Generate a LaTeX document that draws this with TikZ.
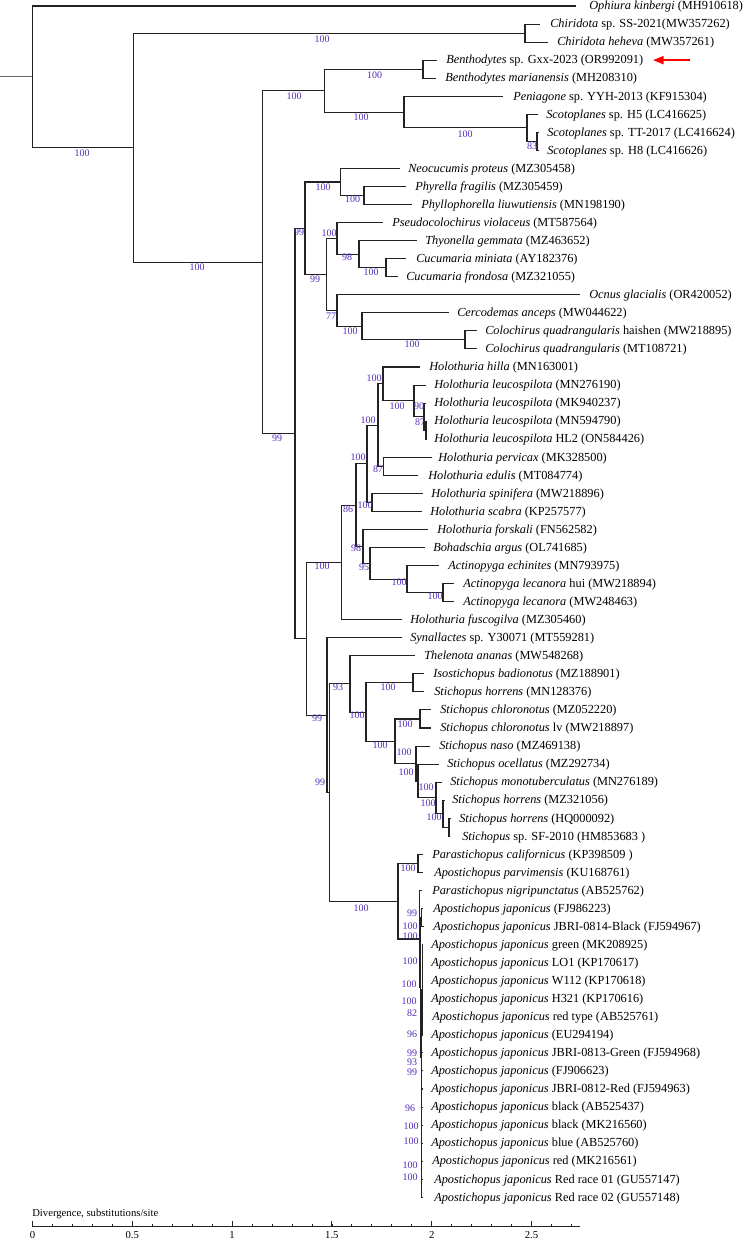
\documentclass[tikz,border=0pt]{standalone}
\usepackage{fontspec}
\setmainfont{Liberation Serif}
\usetikzlibrary{arrows.meta,calc}
\definecolor{bscol}{RGB}{85,45,185}
\definecolor{treecol}{RGB}{35,35,35}
\newcommand\phyleaf[5]{%
  \coordinate (l#1) at ({#2},{6+(#1-1)*18.05});
  \node[leaftext] (t#1) at ({#3},{6+(#1-1)*18.05+0.8}) {\textit{#4} #5};}
\newcommand\phybs[4]{\node[bs] (#1) at (#2,#3) {#4};}
\newcommand\phybr[2]{\draw[tree] (#1) |- (#2);}
\begin{document}
\begin{tikzpicture}[x=0.75pt,y=-0.75pt,
  tree/.style={draw=treecol,line width=0.8pt},
  leaftext/.style={anchor=west,inner sep=0pt,font=\fontsize{9.25}{11}\selectfont},
  bs/.style={inner sep=0pt,text=bscol,font=\fontsize{7.5}{9}\selectfont},
  axtext/.style={inner sep=0pt,font=\fontsize{8}{10}\selectfont}]
\fill[white] (0,0) rectangle (748,1240);
\useasboundingbox (0,0) rectangle (748,1240);
% ---------------- leaves ----------------
\phyleaf{1}{576}{589}{Ophiura kinbergi}{(MH910618)}
\phyleaf{2}{540}{550}{Chiridota}{sp. SS-2021(MW357262)}
\phyleaf{3}{548}{557}{Chiridota heheva}{(MW357261)}
\phyleaf{4}{436.5}{446}{Benthodytes}{sp. Gxx-2023 (OR992091)}
\phyleaf{5}{436}{445}{Benthodytes marianensis}{(MH208310)}
\phyleaf{6}{503}{513}{Peniagone}{sp. YYH-2013 (KF915304)}
\phyleaf{7}{538}{546}{Scotoplanes}{sp. H5 (LC416625)}
\phyleaf{8}{539}{547}{Scotoplanes}{sp. TT-2017 (LC416624)}
\phyleaf{9}{539}{547}{Scotoplanes}{sp. H8 (LC416626)}
\phyleaf{10}{400}{408}{Neocucumis proteus}{(MZ305458)}
\phyleaf{11}{406}{415}{Phyrella fragilis}{(MZ305459)}
\phyleaf{12}{412}{421}{Phyllophorella liuwutiensis}{(MN198190)}
\phyleaf{13}{383}{392}{Pseudocolochirus violaceus}{(MT587564)}
\phyleaf{14}{417}{425}{Thyonella gemmata}{(MZ463652)}
\phyleaf{15}{406}{416}{Cucumaria miniata}{(AY182376)}
\phyleaf{16}{398}{406}{Cucumaria frondosa}{(MZ321055)}
\phyleaf{17}{580}{589}{Ocnus glacialis}{(OR420052)}
\phyleaf{18}{449}{457}{Cercodemas anceps}{(MW044622)}
\phyleaf{19}{477}{485}{Colochirus quadrangularis}{haishen (MW218895)}
\phyleaf{20}{477}{485}{Colochirus quadrangularis}{(MT108721)}
\phyleaf{21}{420}{429}{Holothuria hilla}{(MN163001)}
\phyleaf{22}{426}{434}{Holothuria leucospilota}{(MN276190)}
\phyleaf{23}{426}{434}{Holothuria leucospilota}{(MK940237)}
\phyleaf{24}{426.5}{434}{Holothuria leucospilota}{(MN594790)}
\phyleaf{25}{426.5}{434}{Holothuria leucospilota}{HL2 (ON584426)}
\phyleaf{26}{432}{438}{Holothuria pervicax}{(MK328500)}
\phyleaf{27}{418}{428}{Holothuria edulis}{(MT084774)}
\phyleaf{28}{423}{431}{Holothuria spinifera}{(MW218896)}
\phyleaf{29}{422}{430}{Holothuria scabra}{(KP257577)}
\phyleaf{30}{428}{437}{Holothuria forskali}{(FN562582)}
\phyleaf{31}{425}{433}{Bohadschia argus}{(OL741685)}
\phyleaf{32}{439}{448}{Actinopyga echinites}{(MN793975)}
\phyleaf{33}{454}{463}{Actinopyga lecanora}{hui (MW218894)}
\phyleaf{34}{454}{463}{Actinopyga lecanora}{(MW248463)}
\phyleaf{35}{402}{410}{Holothuria fuscogilva}{(MZ305460)}
\phyleaf{36}{402}{410}{Synallactes}{sp. Y30071 (MT559281)}
\phyleaf{37}{415}{424}{Thelenota ananas}{(MW548268)}
\phyleaf{38}{424}{433}{Isostichopus badionotus}{(MZ188901)}
\phyleaf{39}{424}{434}{Stichopus horrens}{(MN128376)}
\phyleaf{40}{431}{440}{Stichopus chloronotus}{(MZ052220)}
\phyleaf{41}{431}{440}{Stichopus chloronotus}{lv (MW218897)}
\phyleaf{42}{430}{439}{Stichopus naso}{(MZ469138)}
\phyleaf{43}{439}{447}{Stichopus ocellatus}{(MZ292734)}
\phyleaf{44}{442}{450}{Stichopus monotuberculatus}{(MN276189)}
\phyleaf{45}{445}{452}{Stichopus horrens}{(MZ321056)}
\phyleaf{46}{451}{459}{Stichopus horrens}{(HQ000092)}
\phyleaf{47}{450}{462}{Stichopus}{sp. SF-2010 (HM853683 )}
\phyleaf{48}{423}{432}{Parastichopus californicus}{(KP398509 )}
\phyleaf{49}{423}{434}{Apostichopus parvimensis}{(KU168761)}
\phyleaf{50}{421.5}{432}{Parastichopus nigripunctatus}{(AB525762)}
\phyleaf{51}{423}{433}{Apostichopus japonicus}{(FJ986223)}
\phyleaf{52}{424}{433}{Apostichopus japonicus}{JBRI-0814-Black (FJ594967)}
\phyleaf{53}{423}{431}{Apostichopus japonicus}{green (MK208925)}
\phyleaf{54}{423}{431}{Apostichopus japonicus}{LO1 (KP170617)}
\phyleaf{55}{423}{431}{Apostichopus japonicus}{W112 (KP170618)}
\phyleaf{56}{423}{431}{Apostichopus japonicus}{H321 (KP170616)}
\phyleaf{57}{423}{432}{Apostichopus japonicus}{red type (AB525761)}
\phyleaf{58}{423}{431}{Apostichopus japonicus}{(EU294194)}
\phyleaf{59}{423}{431}{Apostichopus japonicus}{JBRI-0813-Green (FJ594968)}
\phyleaf{60}{423}{431}{Apostichopus japonicus}{(FJ906623)}
\phyleaf{61}{423}{431}{Apostichopus japonicus}{JBRI-0812-Red (FJ594963)}
\phyleaf{62}{423}{431}{Apostichopus japonicus}{black (AB525437)}
\phyleaf{63}{423}{431}{Apostichopus japonicus}{black (MK216560)}
\phyleaf{64}{423}{431}{Apostichopus japonicus}{blue (AB525760)}
\phyleaf{65}{423}{432}{Apostichopus japonicus}{red (MK216561)}
\phyleaf{66}{423}{434}{Apostichopus japonicus}{Red race 01 (GU557147)}
\phyleaf{67}{423}{434}{Apostichopus japonicus}{Red race 02 (GU557148)}
% ---------------- internal nodes ----------------
\coordinate (rs) at (0,76.79);
\coordinate (R) at (32.4,76.79);
\coordinate (A) at (133.5,147.57);
\coordinate (Chir) at (525,33.08);
\coordinate (B) at (262.5,262.06);
\coordinate (X) at (324.4,90.61);
\coordinate (Bn) at (423,69.18);
\coordinate (Z) at (404,112.04);
\coordinate (Sc) at (527,127.84);
\coordinate (Sc2) at (537,141.38);
\coordinate (C) at (295,433.51);
\coordinate (D1) at (305,228.25);
\coordinate (P) at (340.5,181.99);
\coordinate (Ph) at (364,195.53);
\coordinate (D3) at (326.5,274.50);
\coordinate (Cu) at (337,238.40);
\coordinate (Th) at (359,254.19);
\coordinate (Cm) at (386,267.73);
\coordinate (O) at (337,310.60);
\coordinate (Ce) at (362,326.39);
\coordinate (Co) at (465,339.93);
\coordinate (E) at (306.5,638.77);
\coordinate (H) at (341.5,562.38);
\coordinate (H2) at (356,505.06);
\coordinate (H3) at (367,463.74);
\coordinate (H5) at (378,425.10);
\coordinate (Hi) at (383,383.92);
\coordinate (L1) at (414,400.84);
\coordinate (L2) at (424,416.64);
\coordinate (L3) at (426,430.18);
\coordinate (Pe) at (383.5,466.28);
\coordinate (H6) at (372,502.38);
\coordinate (H4) at (363,546.38);
\coordinate (Bo) at (370,563.30);
\coordinate (Ac1) at (407,579.09);
\coordinate (Ac2) at (443,592.63);
\coordinate (S1) at (327,715.15);
\coordinate (S2) at (329.5,792.56);
\coordinate (St) at (350,683.94);
\coordinate (St2) at (366,712.07);
\coordinate (Is) at (413,682.88);
\coordinate (St3) at (395,741.26);
\coordinate (Chl) at (420,718.98);
\coordinate (St4) at (416,763.54);
\coordinate (St5) at (418,781.03);
\coordinate (St6) at (436,797.95);
\coordinate (St7) at (443,813.74);
\coordinate (St8) at (449,827.28);
\coordinate (Ap) at (398,901.17);
\coordinate (Pc) at (418,863.38);
\coordinate (Aj) at (419.5,938.96);
\coordinate (Aj2) at (420.5,987.47);
\coordinate (JA) at (421.3,917.53);
\coordinate (JB) at (421.3,1057.41);
\coordinate (JC) at (422.3,989.73);
\coordinate (JD) at (421.8,1125.1);
% ---------------- branches ----------------
\draw[tree,draw=black!60] (rs) -- (R);
\phybr{R}{l1}\phybr{R}{A}
\phybr{A}{Chir}\phybr{A}{B}
\phybr{Chir}{l2}\phybr{Chir}{l3}
\phybr{B}{X}\phybr{B}{C}
\phybr{X}{Bn}\phybr{X}{Z}
\phybr{Bn}{l4}\phybr{Bn}{l5}
\phybr{Z}{l6}\phybr{Z}{Sc}
\phybr{Sc}{l7}\phybr{Sc}{Sc2}
\phybr{Sc2}{l8}\phybr{Sc2}{l9}
\phybr{C}{D1}\phybr{C}{E}
\phybr{D1}{P}\phybr{D1}{D3}
\phybr{P}{l10}\phybr{P}{Ph}
\phybr{Ph}{l11}\phybr{Ph}{l12}
\phybr{D3}{Cu}\phybr{D3}{O}
\phybr{Cu}{l13}\phybr{Cu}{Th}
\phybr{Th}{l14}\phybr{Th}{Cm}
\phybr{Cm}{l15}\phybr{Cm}{l16}
\phybr{O}{l17}\phybr{O}{Ce}
\phybr{Ce}{l18}\phybr{Ce}{Co}
\phybr{Co}{l19}\phybr{Co}{l20}
\phybr{E}{H}\phybr{E}{S1}
\phybr{H}{H2}\phybr{H}{l35}
\phybr{H2}{H3}\phybr{H2}{H4}
\phybr{H3}{H5}\phybr{H3}{H6}
\phybr{H5}{Hi}\phybr{H5}{Pe}
\phybr{Hi}{l21}\phybr{Hi}{L1}
\phybr{L1}{l22}\phybr{L1}{L2}
\phybr{L2}{l23}\phybr{L2}{L3}
\phybr{L3}{l24}\phybr{L3}{l25}
\phybr{Pe}{l26}\phybr{Pe}{l27}
\phybr{H6}{l28}\phybr{H6}{l29}
\phybr{H4}{l30}\phybr{H4}{Bo}
\phybr{Bo}{l31}\phybr{Bo}{Ac1}
\phybr{Ac1}{l32}\phybr{Ac1}{Ac2}
\phybr{Ac2}{l33}\phybr{Ac2}{l34}
\phybr{S1}{l36}\phybr{S1}{S2}
\phybr{S2}{St}\phybr{S2}{Ap}
\phybr{St}{l37}\phybr{St}{St2}
\phybr{St2}{Is}\phybr{St2}{St3}
\phybr{Is}{l38}\phybr{Is}{l39}
\phybr{St3}{Chl}\phybr{St3}{St4}
\phybr{Chl}{l40}\phybr{Chl}{l41}
\phybr{St4}{l42}\phybr{St4}{St5}
\phybr{St5}{l43}\phybr{St5}{St6}
\phybr{St6}{l44}\phybr{St6}{St7}
\phybr{St7}{l45}\phybr{St7}{St8}
\phybr{St8}{l46}\phybr{St8}{l47}
\phybr{Ap}{Pc}\phybr{Ap}{Aj}
\phybr{Pc}{l48}\phybr{Pc}{l49}
\phybr{Aj}{l50}\phybr{Aj}{Aj2}
\phybr{Aj2}{JA}\phybr{Aj2}{JB}
\phybr{JA}{l51}\phybr{JA}{l52}
\phybr{JB}{JC}\phybr{JB}{JD}
\foreach \k in {53,...,58}{\draw[tree,line width=1.1pt] (JC) |- (l\k);}
\foreach \k in {59,...,67}{\draw[tree] (JD) |- (l\k);}
% ---------------- bootstrap values ----------------
\phybs{bA}{82}{153}{100}
\phybs{bChir}{322}{39.5}{100}
\phybs{bBn}{374.5}{75}{100}
\phybs{bX}{294}{96}{100}
\phybs{bZ}{361}{117.5}{100}
\phybs{bSc}{465}{134}{100}
\phybs{bSc2}{532}{146.5}{83}
\phybs{bB}{197}{267.5}{100}
\phybs{bC}{277}{438}{99}
\phybs{bD1}{299}{232}{99}
\phybs{bP}{323}{187.5}{100}
\phybs{bPh}{352.5}{199.5}{100}
\phybs{bD3}{315}{279.5}{99}
\phybs{bCu}{329}{233.5}{100}
\phybs{bTh}{347}{257.5}{98}
\phybs{bCm}{371}{272}{100}
\phybs{bO}{331}{316}{77}
\phybs{bCe}{350}{331}{100}
\phybs{bCo}{412}{344.5}{100}
\phybs{bHi}{374}{378.5}{100}
\phybs{bL1}{397}{406}{100}
\phybs{bL2}{419}{406}{90}
\phybs{bL3}{420}{422}{87}
\phybs{bH5}{368}{420.5}{100}
\phybs{bPe}{378}{469}{87}
\phybs{bH6}{365}{505}{100}
\phybs{bH3}{358}{457}{100}
\phybs{bH4}{356}{548}{98}
\phybs{bBo}{364}{567}{95}
\phybs{bAc1}{399}{582}{100}
\phybs{bAc2}{435}{596}{100}
\phybs{bH2}{348}{509.5}{86}
\phybs{bH}{322}{566}{100}
\phybs{bS1}{317}{718}{99}
\phybs{bS2}{320}{782}{99}
\phybs{bSt}{338}{687}{93}
\phybs{bSt2}{357}{715}{100}
\phybs{bIs}{388}{687}{100}
\phybs{bSt3}{380}{745}{100}
\phybs{bChl}{405}{724}{100}
\phybs{bSt4}{404}{752}{100}
\phybs{bSt5}{406}{772}{100}
\phybs{bSt6}{426}{787.5}{100}
\phybs{bSt7}{428}{803.5}{100}
\phybs{bSt8}{434}{817}{100}
\phybs{bAp}{361}{908}{100}
\phybs{bPc}{408}{868}{100}
\phybs{j1}{412}{913}{99}
\phybs{j2}{410}{926}{100}
\phybs{j3}{410}{936}{100}
\phybs{j4}{410}{961}{100}
\phybs{j5}{409}{984}{100}
\phybs{j6}{409}{1001}{100}
\phybs{j7}{412}{1013}{82}
\phybs{j8}{412}{1034}{96}
\phybs{j9}{412}{1053}{99}
\phybs{j10}{412}{1062.5}{93}
\phybs{j11}{412}{1072}{99}
\phybs{j12}{410}{1108}{96}
\phybs{j13}{411}{1126}{100}
\phybs{j14}{411}{1141}{100}
\phybs{j15}{410}{1165}{100}
\phybs{j16}{410}{1177}{100}
% ---------------- red arrow ----------------
\coordinate (arT) at (690,60.15);
\coordinate (arH) at (653,60.15);
\draw[red,line width=1.6pt,-{Triangle[length=8pt,width=6pt]}] (arT) -- (arH);
% ---------------- scale axis ----------------
\node[axtext,anchor=west] (axtitle) at (32,1214) {Divergence, substitutions/site};
\coordinate (ax0) at (32.5,1226.5);
\coordinate (ax1) at (580,1226.5);
\draw[treecol,line width=0.7pt] (ax0) -- (ax1);
\foreach \k in {0,...,27}{\draw[treecol,line width=0.6pt] ($(ax0)+(\k*19.96,0)$) -- ++(0,-3);}
\foreach \k in {0,...,5}{\draw[treecol,line width=0.7pt] ($(ax0)+(\k*99.8,0)$) -- ++(0,-5.5);}
\node[axtext] (tk0) at (32.5,1235) {0};
\node[axtext] (tk1) at (132.3,1235) {0.5};
\node[axtext] (tk2) at (232.1,1235) {1};
\node[axtext] (tk3) at (331.9,1235) {1.5};
\node[axtext] (tk4) at (431.7,1235) {2};
\node[axtext] (tk5) at (531.5,1235) {2.5};
\end{tikzpicture}
\end{document}
